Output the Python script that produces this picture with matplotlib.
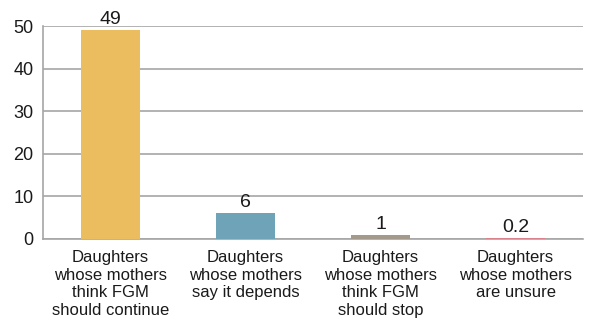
import matplotlib
matplotlib.use("Agg")
import matplotlib.pyplot as plt

plt.rcParams['font.family'] = ['Liberation Sans', 'DejaVu Sans']

categories = [
    "Daughters\nwhose mothers\nthink FGM\nshould continue",
    "Daughters\nwhose mothers\nsay it depends",
    "Daughters\nwhose mothers\nthink FGM\nshould stop",
    "Daughters\nwhose mothers\nare unsure",
]
values = [49, 6, 1, 0.2]
value_labels = ["49", "6", "1", "0.2"]
colors = ["#ebbd5e", "#6fa3b8", "#a39a8c", "#d9828a"]

fig = plt.figure(figsize=(5.89, 3.22), dpi=100)
ax = fig.add_axes([0.073, 0.258, 0.917, 0.661])

x = range(len(values))
ax.bar(x, values, width=0.44, color=colors, zorder=3)
for xi, v, lab in zip(x, values, value_labels):
    ax.text(xi, v + 0.5, lab, ha='center', va='bottom', fontsize=14, color='#1a1a1a')

ax.set_xlim(-0.5, 3.5)
ax.set_ylim(0, 50)
ax.set_yticks(range(0, 51, 10))
ax.set_xticks(list(x))
ax.set_xticklabels(categories, fontsize=12, linespacing=1.22, color='#1a1a1a')
ax.tick_params(axis='y', length=0, labelsize=13, labelcolor='#1a1a1a', pad=7)
ax.tick_params(axis='x', length=0, pad=8)
ax.grid(axis='y', color='#a6a6a6', linewidth=1.2, zorder=0)
for s in ['top', 'right']:
    ax.spines[s].set_visible(False)
ax.spines['left'].set_color('#a6a6a6')
ax.spines['bottom'].set_color('#a6a6a6')
ax.spines['left'].set_linewidth(1.2)
ax.spines['bottom'].set_linewidth(1.2)

fig.savefig("out.png", dpi=100)
